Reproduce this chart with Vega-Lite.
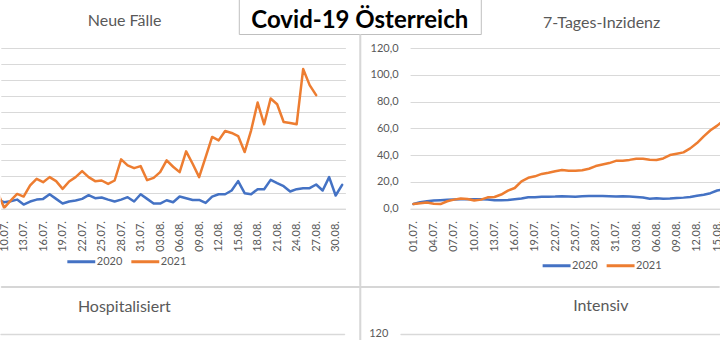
{
  "$schema": "https://vega.github.io/schema/vega-lite/v6.json",
  "padding": {"left": -2.2, "top": -5, "right": 0, "bottom": 0},
  "background": "white",
  "config": {
    "font": "Lato",
    "view": {"stroke": null},
    "axis": {"labelFont": "Lato", "labelFontSize": 11, "labelColor": "#595959", "gridColor": "#d9d9d9", "gridWidth": 1, "domainColor": "#d9d9d9", "ticks": false, "title": null},
    "title": {"font": "Lato", "fontSize": 16, "fontWeight": "normal", "color": "#595959", "anchor": "middle", "frame": "group"},
    "legend": {"orient": "none", "direction": "horizontal", "symbolType": "stroke", "symbolStrokeWidth": 3, "symbolSize": 780, "labelFont": "Lato", "labelFontSize": 11, "labelColor": "#595959", "columnPadding": 2, "labelOffset": 0, "title": null}
  },
  "datasets": {
    "faelle": [
      {"tag":9,"jahr":"2020","wert":112},{"tag":10,"jahr":"2020","wert":79},{"tag":11,"jahr":"2020","wert":92},{"tag":12,"jahr":"2020","wert":112},{"tag":13,"jahr":"2020","wert":50},{"tag":14,"jahr":"2020","wert":88},{"tag":15,"jahr":"2020","wert":112},{"tag":16,"jahr":"2020","wert":121},{"tag":17,"jahr":"2020","wert":179},{"tag":18,"jahr":"2020","wert":121},{"tag":19,"jahr":"2020","wert":63},{"tag":20,"jahr":"2020","wert":88},{"tag":21,"jahr":"2020","wert":100},{"tag":22,"jahr":"2020","wert":121},{"tag":23,"jahr":"2020","wert":167},{"tag":24,"jahr":"2020","wert":129},{"tag":25,"jahr":"2020","wert":138},{"tag":26,"jahr":"2020","wert":112},{"tag":27,"jahr":"2020","wert":88},{"tag":28,"jahr":"2020","wert":112},{"tag":29,"jahr":"2020","wert":142},{"tag":30,"jahr":"2020","wert":88},{"tag":31,"jahr":"2020","wert":179},{"tag":32,"jahr":"2020","wert":121},{"tag":33,"jahr":"2020","wert":63},{"tag":34,"jahr":"2020","wert":63},{"tag":35,"jahr":"2020","wert":104},{"tag":36,"jahr":"2020","wert":79},{"tag":37,"jahr":"2020","wert":150},{"tag":38,"jahr":"2020","wert":129},{"tag":39,"jahr":"2020","wert":108},{"tag":40,"jahr":"2020","wert":108},{"tag":41,"jahr":"2020","wert":71},{"tag":42,"jahr":"2020","wert":150},{"tag":43,"jahr":"2020","wert":179},{"tag":44,"jahr":"2020","wert":179},{"tag":45,"jahr":"2020","wert":225},{"tag":46,"jahr":"2020","wert":342},{"tag":47,"jahr":"2020","wert":192},{"tag":48,"jahr":"2020","wert":179},{"tag":49,"jahr":"2020","wert":242},{"tag":50,"jahr":"2020","wert":242},{"tag":51,"jahr":"2020","wert":358},{"tag":52,"jahr":"2020","wert":317},{"tag":53,"jahr":"2020","wert":279},{"tag":54,"jahr":"2020","wert":213},{"tag":55,"jahr":"2020","wert":242},{"tag":56,"jahr":"2020","wert":254},{"tag":57,"jahr":"2020","wert":254},{"tag":58,"jahr":"2020","wert":300},{"tag":59,"jahr":"2020","wert":225},{"tag":60,"jahr":"2020","wert":392},{"tag":61,"jahr":"2020","wert":163},{"tag":62,"jahr":"2020","wert":296},
      {"tag":9,"jahr":"2021","wert":204},{"tag":10,"jahr":"2021","wert":10},{"tag":11,"jahr":"2021","wert":100},{"tag":12,"jahr":"2021","wert":183},{"tag":13,"jahr":"2021","wert":150},{"tag":14,"jahr":"2021","wert":288},{"tag":15,"jahr":"2021","wert":371},{"tag":16,"jahr":"2021","wert":329},{"tag":17,"jahr":"2021","wert":392},{"tag":18,"jahr":"2021","wert":342},{"tag":19,"jahr":"2021","wert":246},{"tag":20,"jahr":"2021","wert":338},{"tag":21,"jahr":"2021","wert":392},{"tag":22,"jahr":"2021","wert":467},{"tag":23,"jahr":"2021","wert":392},{"tag":24,"jahr":"2021","wert":342},{"tag":25,"jahr":"2021","wert":350},{"tag":26,"jahr":"2021","wert":308},{"tag":27,"jahr":"2021","wert":350},{"tag":28,"jahr":"2021","wert":613},{"tag":29,"jahr":"2021","wert":538},{"tag":30,"jahr":"2021","wert":504},{"tag":31,"jahr":"2021","wert":529},{"tag":32,"jahr":"2021","wert":354},{"tag":33,"jahr":"2021","wert":383},{"tag":34,"jahr":"2021","wert":454},{"tag":35,"jahr":"2021","wert":600},{"tag":36,"jahr":"2021","wert":521},{"tag":37,"jahr":"2021","wert":454},{"tag":38,"jahr":"2021","wert":713},{"tag":39,"jahr":"2021","wert":558},{"tag":40,"jahr":"2021","wert":392},{"tag":41,"jahr":"2021","wert":642},{"tag":42,"jahr":"2021","wert":892},{"tag":43,"jahr":"2021","wert":850},{"tag":44,"jahr":"2021","wert":967},{"tag":45,"jahr":"2021","wert":942},{"tag":46,"jahr":"2021","wert":904},{"tag":47,"jahr":"2021","wert":704},{"tag":48,"jahr":"2021","wert":975},{"tag":49,"jahr":"2021","wert":1321},{"tag":50,"jahr":"2021","wert":1050},{"tag":51,"jahr":"2021","wert":1371},{"tag":52,"jahr":"2021","wert":1300},{"tag":53,"jahr":"2021","wert":1079},{"tag":54,"jahr":"2021","wert":1067},{"tag":55,"jahr":"2021","wert":1050},{"tag":56,"jahr":"2021","wert":1738},{"tag":57,"jahr":"2021","wert":1538},{"tag":58,"jahr":"2021","wert":1413}
    ],
    "inzidenz": [
      {"tag":1,"jahr":"2020","wert":3.4},{"tag":2,"jahr":"2020","wert":4.8},{"tag":3,"jahr":"2020","wert":5.5},{"tag":4,"jahr":"2020","wert":6.0},{"tag":5,"jahr":"2020","wert":6.3},{"tag":6,"jahr":"2020","wert":6.6},{"tag":7,"jahr":"2020","wert":6.8},{"tag":8,"jahr":"2020","wert":7.0},{"tag":9,"jahr":"2020","wert":7.0},{"tag":10,"jahr":"2020","wert":7.0},{"tag":11,"jahr":"2020","wert":7.0},{"tag":12,"jahr":"2020","wert":6.8},{"tag":13,"jahr":"2020","wert":6.3},{"tag":14,"jahr":"2020","wert":6.2},{"tag":15,"jahr":"2020","wert":6.5},{"tag":16,"jahr":"2020","wert":7.0},{"tag":17,"jahr":"2020","wert":7.6},{"tag":18,"jahr":"2020","wert":8.4},{"tag":19,"jahr":"2020","wert":8.5},{"tag":20,"jahr":"2020","wert":8.8},{"tag":21,"jahr":"2020","wert":8.9},{"tag":22,"jahr":"2020","wert":9.0},{"tag":23,"jahr":"2020","wert":9.3},{"tag":24,"jahr":"2020","wert":9.1},{"tag":25,"jahr":"2020","wert":8.9},{"tag":26,"jahr":"2020","wert":9.2},{"tag":27,"jahr":"2020","wert":9.4},{"tag":28,"jahr":"2020","wert":9.4},{"tag":29,"jahr":"2020","wert":9.4},{"tag":30,"jahr":"2020","wert":9.3},{"tag":31,"jahr":"2020","wert":9.0},{"tag":32,"jahr":"2020","wert":9.3},{"tag":33,"jahr":"2020","wert":9.0},{"tag":34,"jahr":"2020","wert":8.6},{"tag":35,"jahr":"2020","wert":8.3},{"tag":36,"jahr":"2020","wert":7.4},{"tag":37,"jahr":"2020","wert":7.7},{"tag":38,"jahr":"2020","wert":7.3},{"tag":39,"jahr":"2020","wert":7.5},{"tag":40,"jahr":"2020","wert":8.0},{"tag":41,"jahr":"2020","wert":8.2},{"tag":42,"jahr":"2020","wert":8.6},{"tag":43,"jahr":"2020","wert":9.6},{"tag":44,"jahr":"2020","wert":10.4},{"tag":45,"jahr":"2020","wert":11.5},{"tag":46,"jahr":"2020","wert":13.5},{"tag":47,"jahr":"2020","wert":14.5},{"tag":48,"jahr":"2020","wert":15.5},
      {"tag":1,"jahr":"2021","wert":3.4},{"tag":2,"jahr":"2021","wert":4.0},{"tag":3,"jahr":"2021","wert":4.5},{"tag":4,"jahr":"2021","wert":3.6},{"tag":5,"jahr":"2021","wert":3.4},{"tag":6,"jahr":"2021","wert":5.5},{"tag":7,"jahr":"2021","wert":6.7},{"tag":8,"jahr":"2021","wert":7.5},{"tag":9,"jahr":"2021","wert":7.2},{"tag":10,"jahr":"2021","wert":6.0},{"tag":11,"jahr":"2021","wert":6.7},{"tag":12,"jahr":"2021","wert":8.4},{"tag":13,"jahr":"2021","wert":8.7},{"tag":14,"jahr":"2021","wert":10.5},{"tag":15,"jahr":"2021","wert":13.4},{"tag":16,"jahr":"2021","wert":15.4},{"tag":17,"jahr":"2021","wert":20.4},{"tag":18,"jahr":"2021","wert":23.0},{"tag":19,"jahr":"2021","wert":24.1},{"tag":20,"jahr":"2021","wert":25.9},{"tag":21,"jahr":"2021","wert":26.8},{"tag":22,"jahr":"2021","wert":27.9},{"tag":23,"jahr":"2021","wert":28.8},{"tag":24,"jahr":"2021","wert":28.3},{"tag":25,"jahr":"2021","wert":28.2},{"tag":26,"jahr":"2021","wert":28.6},{"tag":27,"jahr":"2021","wert":29.8},{"tag":28,"jahr":"2021","wert":31.8},{"tag":29,"jahr":"2021","wert":33.0},{"tag":30,"jahr":"2021","wert":34.0},{"tag":31,"jahr":"2021","wert":35.7},{"tag":32,"jahr":"2021","wert":35.8},{"tag":33,"jahr":"2021","wert":36.4},{"tag":34,"jahr":"2021","wert":37.2},{"tag":35,"jahr":"2021","wert":37.3},{"tag":36,"jahr":"2021","wert":36.5},{"tag":37,"jahr":"2021","wert":36.3},{"tag":38,"jahr":"2021","wert":37.5},{"tag":39,"jahr":"2021","wert":40.0},{"tag":40,"jahr":"2021","wert":41.0},{"tag":41,"jahr":"2021","wert":42.0},{"tag":42,"jahr":"2021","wert":45.0},{"tag":43,"jahr":"2021","wert":49.0},{"tag":44,"jahr":"2021","wert":54.0},{"tag":45,"jahr":"2021","wert":58.5},{"tag":46,"jahr":"2021","wert":62.0},{"tag":47,"jahr":"2021","wert":66.0},{"tag":48,"jahr":"2021","wert":69.5}
    ]
  },
  "hconcat": [
    {
      "vconcat": [
        {
          "width": 242, "height": 38,
          "view": {"stroke": "#bfbfbf", "strokeWidth": 1},
          "data": {"values": [{"titel": "Covid-19 Österreich"}]},
          "mark": {"type": "text", "font": "Lato", "fontWeight": "bold", "fontSize": 24, "color": "#000000", "baseline": "alphabetic", "dy": 13},
          "encoding": {"text": {"field": "titel", "type": "nominal"}}
        },
        {
          "width": 1, "height": 251.3,
          "view": {"stroke": "#d6d6d6", "strokeWidth": 1, "fill": "#d6d6d6"},
          "data": {"values": []},
          "mark": "point", "encoding": {}
        },
        {
          "width": 718, "height": 1,
          "view": {"stroke": "#d6d6d6", "strokeWidth": 1, "fill": "#d6d6d6"},
          "data": {"values": []},
          "mark": "point", "encoding": {}
        },
        {
          "width": 1, "height": 54.7,
          "view": {"stroke": "#d6d6d6", "strokeWidth": 1, "fill": "#d6d6d6"},
          "data": {"values": []},
          "mark": "point", "encoding": {}
        }
      ],
      "spacing": 0, "bounds": "flush", "center": true
    },
    {
      "vconcat": [
        {"width": 1, "height": 51.3, "data": {"values": []}, "mark": "point", "encoding": {}},
        {
          "hconcat": [
            {
              "width": 344.6, "height": 160.6,
              "title": {"text": "Neue Fälle", "dx": -48.5, "offset": 19},
              "data": {"name": "faelle"},
              "mark": {"type": "line", "strokeWidth": 2.5, "clip": true, "strokeJoin": "round", "strokeCap": "round"},
              "encoding": {
                "x": {"field": "tag", "type": "quantitative", "scale": {"domain": [9.49, 62.5], "nice": false, "zero": false},
                      "axis": {"values": [10,13,16,19,22,25,28,31,34,37,40,43,46,49,52,55,58,61], "labelExpr": "datum.value <= 31 ? format(datum.value, '02d') + '.07.' : format(datum.value - 31, '02d') + '.08.'", "labelAngle": 270, "grid": false, "labelPadding": 12, "labelFlush": false, "labelOverlap": false, "domain": true}},
                "y": {"field": "wert", "type": "quantitative", "scale": {"domain": [0, 2000], "nice": false},
                      "axis": {"values": [0,200,400,600,800,1000,1200,1400,1600,1800,2000], "labels": false, "domain": false, "grid": true}},
                "color": {"field": "jahr", "type": "nominal", "scale": {"domain": ["2020", "2021"], "range": ["#4472C4", "#ED7D31"]},
                          "legend": {"orient": "none", "legendX": 65, "legendY": 198, "direction": "horizontal", "title": null}}
              }
            },
            {
              "width": 311.1, "height": 160.6,
              "title": {"text": "7-Tages-Inzidenz", "dx": 36, "offset": 11.5},
              "data": {"name": "inzidenz"},
              "mark": {"type": "line", "strokeWidth": 2.5, "clip": true, "strokeJoin": "round", "strokeCap": "round"},
              "encoding": {
                "x": {"field": "tag", "type": "quantitative", "scale": {"domain": [0.5, 46.59], "nice": false, "zero": false},
                      "axis": {"values": [1,4,7,10,13,16,19,22,25,28,31,34,37,40,43,46], "labelExpr": "datum.value <= 31 ? format(datum.value, '02d') + '.07.' : format(datum.value - 31, '02d') + '.08.'", "labelAngle": 270, "grid": false, "labelPadding": 12, "labelFlush": false, "labelOverlap": false, "domain": true}},
                "y": {"field": "wert", "type": "quantitative", "scale": {"domain": [0, 120], "nice": false},
                      "axis": {"values": [0,20,40,60,80,100,120], "labelExpr": "replace(format(datum.value, '.1f'), '.', ',')", "labelPadding": 12, "domain": false, "grid": true}},
                "color": {"field": "jahr", "type": "nominal", "scale": {"domain": ["2020", "2021"], "range": ["#4472C4", "#ED7D31"]},
                          "legend": {"orient": "none", "legendX": 131, "legendY": 202, "direction": "horizontal", "title": null}}
              }
            }
          ],
          "spacing": 64.3, "bounds": "flush",
          "resolve": {"scale": {"color": "independent"}, "legend": {"color": "independent"}}
        },
        {"width": 1, "height": 285.5, "data": {"values": []}, "mark": "point", "encoding": {}},
        {
          "hconcat": [
            {
              "width": 344, "height": 1,
              "view": {"fill": "#d9d9d9", "stroke": "#d9d9d9", "strokeWidth": 0.5},
              "title": {"text": "Hospitalisiert", "dx": -48.5, "offset": 19},
              "data": {"values": []},
              "mark": {"type": "line", "clip": true},
              "encoding": {
                "x": {"field": "tag", "type": "quantitative", "scale": {"domain": [9.49, 62.5], "nice": false, "zero": false}, "axis": null},
                "y": {"field": "wert", "type": "quantitative", "scale": {"domain": [0, 600], "nice": false}, "axis": null}
              }
            },
            {
              "width": 320, "height": 1,
              "view": {"fill": "#d9d9d9", "stroke": "#d9d9d9", "strokeWidth": 0.5},
              "title": {"text": "Intensiv", "dx": 40, "offset": 13.5},
              "data": {"values": []},
              "mark": {"type": "line", "clip": true},
              "encoding": {
                "x": {"field": "tag", "type": "quantitative", "scale": {"domain": [0.5, 47.9], "nice": false, "zero": false}, "axis": null},
                "y": {"field": "wert", "type": "quantitative", "scale": {"domain": [0, 120], "nice": false},
                      "axis": {"values": [120], "labelPadding": 13, "domain": false, "grid": false}}
              }
            }
          ],
          "spacing": 56, "bounds": "flush"
        }
      ],
      "spacing": 0, "bounds": "flush",
      "resolve": {"scale": {"color": "independent"}, "legend": {"color": "independent"}}
    }
  ],
  "spacing": -718,
  "bounds": "flush",
  "resolve": {"scale": {"color": "independent"}, "legend": {"color": "independent"}}
}
